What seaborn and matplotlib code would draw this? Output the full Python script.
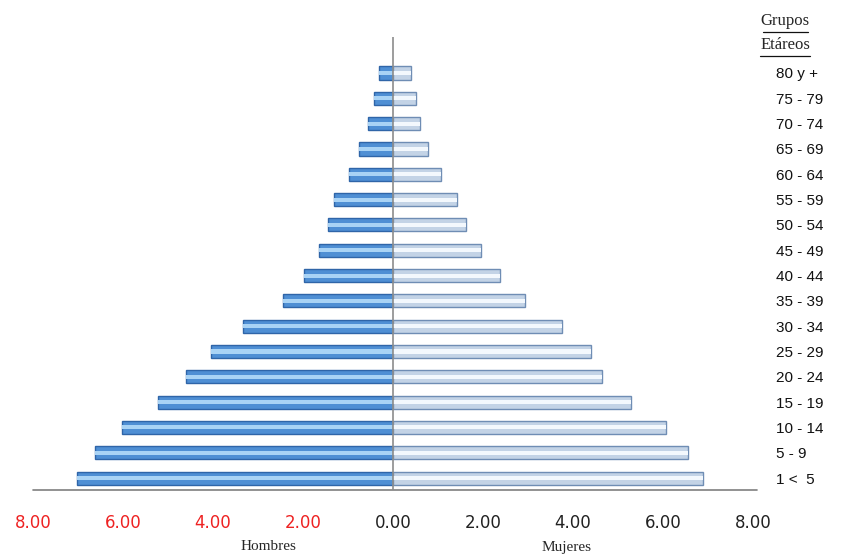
import numpy as np
import pandas as pd
import seaborn as sns
import matplotlib.pyplot as plt
from matplotlib.lines import Line2D

# DATOS (porcentaje de poblacion por grupo etareo)
grupos = ['80 y +', '75 - 79', '70 - 74', '65 - 69', '60 - 64', '55 - 59',
          '50 - 54', '45 - 49', '40 - 44', '35 - 39', '30 - 34', '25 - 29',
          '20 - 24', '15 - 19', '10 - 14', '5 - 9', '1 <  5']
hombres = [0.31, 0.42, 0.56, 0.76, 0.98, 1.31, 1.44, 1.64, 1.98, 2.44,
           3.33, 4.04, 4.60, 5.22, 6.02, 6.62, 7.02]
mujeres = [0.40, 0.51, 0.60, 0.78, 1.07, 1.42, 1.62, 1.96, 2.38, 2.93,
           3.76, 4.40, 4.64, 5.29, 6.07, 6.56, 6.90]
ticks = [-8, -6, -4, -2, 0, 2, 4, 6, 8]

df = pd.DataFrame({'grupo': grupos,
                   'hombres': -np.array(hombres),
                   'mujeres': np.array(mujeres)})

sns.set_style('white')
fig = plt.figure(figsize=(8.44, 5.57), dpi=100)
ax = fig.add_axes([33 / 844, 1 - 490 / 557, (757 - 33) / 844, (490 - 37) / 557])

# HOMBRES: barra base + brillo
sns.barplot(data=df, x='hombres', y='grupo', order=grupos, orient='h', ax=ax,
            color='#4f8fd4', edgecolor='#2f65a8', linewidth=1, width=0.52,
            saturation=1)
sns.barplot(data=df, x='hombres', y='grupo', order=grupos, orient='h', ax=ax,
            color='#a9d3f5', linewidth=0, width=0.16, saturation=1)
# MUJERES: barra base + brillo
sns.barplot(data=df, x='mujeres', y='grupo', order=grupos, orient='h', ax=ax,
            color='#c3d3e6', edgecolor='#6f8db4', linewidth=1, width=0.52,
            saturation=1)
sns.barplot(data=df, x='mujeres', y='grupo', order=grupos, orient='h', ax=ax,
            color='#f3f8fd', linewidth=0, width=0.16, saturation=1)

ax.set_xlim(-8, 8.09)
ax.set_ylim(16.47, -1.42)
for s in ax.spines.values():
    s.set_visible(False)
ax.axhline(16.47, color='#7f7f7f', lw=1.2, clip_on=False)
ax.axvline(0, color='#8c8c8c', lw=1.2, zorder=5)

ax.set_xticks(ticks)
ax.set_xticklabels([f'{abs(t):.2f}' for t in ticks], fontsize=12,
                   family='DejaVu Sans')
for lbl, t in zip(ax.get_xticklabels(), ticks):
    lbl.set_color('#ee2222' if t < 0 else '#222222')
ax.tick_params(axis='x', length=0, pad=17)

ax.yaxis.tick_right()
ax.tick_params(axis='y', length=0, pad=14, labelsize=11)
for lbl in ax.get_yticklabels():
    lbl.set_family('Liberation Sans')
    lbl.set_color('#111111')
ax.set_xlabel('')
ax.set_ylabel('')

fig.text(268 / 844, 1 - 547 / 557, 'Hombres', ha='center', va='center',
         fontsize=11, family='Liberation Serif')
fig.text(567 / 844, 1 - 547 / 557, 'Mujeres', ha='center', va='center',
         fontsize=11, family='Liberation Serif')

# Encabezado de grupos etareos (subrayado)
for texto, yc, x0, x1 in [('Grupos', 21, 763, 808), ('Etáreos', 45, 760, 810)]:
    fig.text(785 / 844, 1 - yc / 557, texto, ha='center', va='center',
             fontsize=12, family='Liberation Serif')
    fig.add_artist(Line2D([x0 / 844, x1 / 844], [1 - (yc + 11) / 557] * 2,
                          color='#111111', lw=0.9))

fig.savefig('out.png', dpi=100)
